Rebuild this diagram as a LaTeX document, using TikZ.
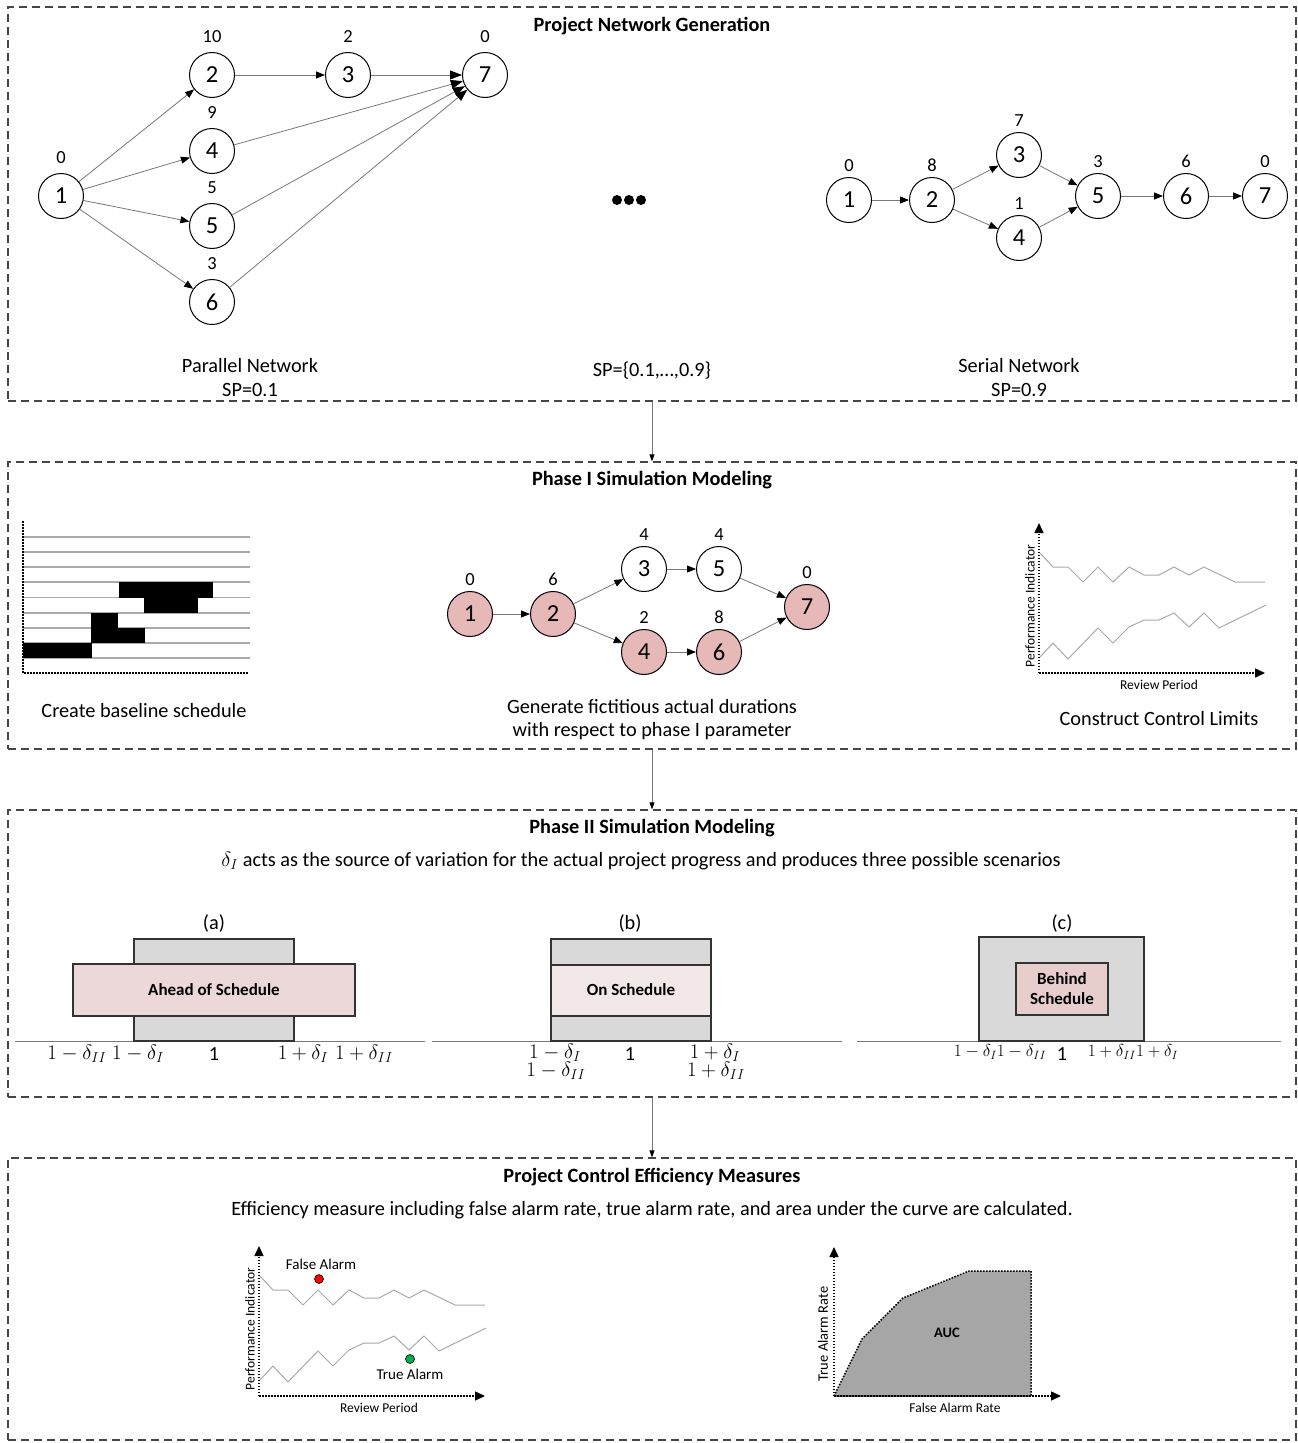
\documentclass[tikz,border=0pt]{standalone}
\usepackage{fontspec}
\setmainfont{Carlito}
\usetikzlibrary{arrows.meta}
\definecolor{nodepink}{RGB}{230,184,183}
\definecolor{boxgray}{RGB}{217,217,217}
\definecolor{bandpink}{RGB}{236,216,216}
\definecolor{lightband}{RGB}{242,232,232}
\definecolor{behindpink}{RGB}{232,205,205}
\definecolor{linegray}{RGB}{120,120,120}
\definecolor{chartgray}{RGB}{170,170,170}
\definecolor{aucgray}{RGB}{166,166,166}
\definecolor{framegray}{RGB}{70,70,70}
\definecolor{alarmgreen}{RGB}{0,176,80}
\begin{document}
\begin{tikzpicture}[x=1pt,y=-1pt,
  panel/.style={draw=framegray, dash pattern=on 8pt off 5pt, line width=1.2pt, minimum width=1288pt, inner sep=0pt},
  ttl/.style={font=\fontsize{20.3}{24}\selectfont\bfseries},
  txt/.style={font=\fontsize{20.3}{24}\selectfont, align=center, inner sep=0pt},
  small/.style={font=\fontsize{13.5}{16}\selectfont, inner sep=0pt},
  act/.style={circle, draw=black, line width=1pt, minimum size=45pt, inner sep=0pt, font=\fontsize{24.5}{28}\selectfont, fill=white},
  hot/.style={act, fill=nodepink},
  dur/.style={font=\fontsize{18.5}{22}\selectfont, inner sep=0pt},
  netarrow/.style={draw=linegray, line width=0.8pt, -{Triangle[length=9pt,width=7pt,color=black]}},
  bigarrow/.style={draw=linegray, line width=0.8pt, -{Triangle[length=12pt,width=9pt,color=black]}},
  flowarrow/.style={draw=linegray, line width=0.8pt, -{Triangle[length=7pt,width=5pt,color=black]}},
  axis/.style={line width=1.5pt, dash pattern=on 1.5pt off 1.5pt, -{Triangle[length=10pt,width=9pt]}},
  chartline/.style={draw=chartgray, line width=1pt},
  ganttline/.style={draw=chartgray, line width=1.1pt},
  scen/.style={draw=black!80, line width=1.2pt},
  base/.style={draw=linegray, line width=1pt},
  mlab/.style={font=\fontsize{20}{24}\selectfont, inner sep=0pt},
  clab/.style={font=\fontsize{17}{20}\selectfont, inner sep=0pt},
  scentext/.style={font=\fontsize{17}{21}\selectfont\bfseries, align=center},
  ctrl/.pic={
    \draw[axis] (0,0) -- (0,-150);
    \draw[axis] (0,0) -- (226,0);
    \draw[chartline] (1,-120) -- (14,-106) -- (29,-106) -- (44,-91) -- (59,-106) -- (74,-91) -- (90,-106) -- (105,-98) -- (120,-98) -- (135,-106) -- (150,-98) -- (165,-106) -- (196,-91) -- (226,-91);
    \draw[chartline] (1,-16) -- (14,-30) -- (29,-14) -- (59,-45) -- (74,-30) -- (90,-46) -- (105,-53) -- (120,-53) -- (135,-60) -- (150,-46) -- (165,-60) -- (180,-45) -- (227,-68);
    \node[small, rotate=90] at (-9,-67) {Performance Indicator};
    \node[small] at (120,12) {Review Period};
  }
]
\useasboundingbox[fill=white] (0,0) rectangle (1298,1443);

% ---------- frames ----------
\node[panel, minimum height=394pt] (f1) at (652,204) {};
\node[panel, minimum height=287pt] (f2) at (652,605.5) {};
\node[panel, minimum height=287pt] (f3) at (652,953.5) {};
\node[panel, minimum height=282pt] (f4) at (652,1299) {};
\draw[flowarrow] (f1.south) -- (f2.north);
\draw[flowarrow] (f2.south) -- (f3.north);
\draw[flowarrow] (f3.south) -- (f4.north);

% ---------- Project Network Generation ----------
\node[ttl] (t1) at (652,26) {Project Network Generation};

\node[act, label={[dur,label distance=9pt]90:0}] (p1) at (61,196) {1};
\node[act, label={[dur,label distance=9pt]90:10}] (p2) at (212,75) {2};
\node[act, label={[dur,label distance=9pt]90:2}] (p3) at (348,75) {3};
\node[act, label={[dur,label distance=9pt]90:0}] (p7) at (485,75) {7};
\node[act, label={[dur,label distance=9pt]90:9}] (p4) at (212,151) {4};
\node[act, label={[dur,label distance=9pt]90:5}] (p5) at (212,226) {5};
\node[act, label={[dur,label distance=9pt]90:3}] (p6) at (212,302) {6};
\draw[netarrow] (p1) -- (p2);
\draw[netarrow] (p1) -- (p4);
\draw[netarrow] (p1) -- (p5);
\draw[netarrow] (p1) -- (p6);
\draw[netarrow] (p2) -- (p3);
\draw[bigarrow] (p3) -- (p7);
\draw[bigarrow] (p4) -- (p7);
\draw[bigarrow] (p5) -- (p7);
\draw[bigarrow] (p6) -- (p7);
\node[txt] (pl1) at (250,366) {Parallel Network};
\node[txt] (pl2) at (250,390) {SP=0.1};

\fill (617,200) circle (5pt) (629,200) circle (5pt) (641,200) circle (5pt);
\node[txt] (spr) at (652,371) {SP=\{0.1,…,0.9\}};

\node[act, label={[dur,label distance=5.5pt]90:0}] (s1) at (849,200) {1};
\node[act, label={[dur,label distance=5.5pt]90:8}] (s2) at (932,200) {2};
\node[act, label={[dur,label distance=5.5pt]90:7}] (s3) at (1019,155) {3};
\node[act, label={[dur,label distance=5.5pt]90:1}] (s4) at (1019,238) {4};
\node[act, label={[dur,label distance=5.5pt]90:3}] (s5) at (1098,196) {5};
\node[act, label={[dur,label distance=5.5pt]90:6}] (s6) at (1186,196) {6};
\node[act, label={[dur,label distance=5.5pt]90:0}] (s7) at (1265,196) {7};
\draw[netarrow] (s1) -- (s2);
\draw[netarrow] (s2) -- (s3);
\draw[netarrow] (s2) -- (s4);
\draw[netarrow] (s3) -- (s5);
\draw[netarrow] (s4) -- (s5);
\draw[netarrow] (s5) -- (s6);
\draw[netarrow] (s6) -- (s7);
\node[txt] (sl1) at (1019,366) {Serial Network};
\node[txt] (sl2) at (1019,390) {SP=0.9};

% ---------- Phase I ----------
\node[ttl] (t2) at (652,480) {Phase I Simulation Modeling};

\foreach \yy in {537,552,567,582,597.5,613,628,643,658}
  \draw[ganttline] (23,\yy) -- (250,\yy);
\fill[black] (23,643) rectangle (92,658);
\fill[black] (91,613) rectangle (118,628);
\fill[black] (91,628) rectangle (145,643);
\fill[black] (119,582) rectangle (213,597.5);
\fill[black] (144,597) rectangle (198,613);
\draw[line width=1.5pt, dash pattern=on 1.5pt off 1.5pt] (23,521) -- (23,673) -- (249,673);
\node[txt] (g1) at (144,711) {Create baseline schedule};

\node[hot, label={[dur,label distance=5.5pt]90:0}] (a1) at (470,614) {1};
\node[hot, label={[dur,label distance=5.5pt]90:6}] (a2) at (553,614) {2};
\node[act, label={[dur,label distance=5.5pt]90:4}] (a3) at (644,569) {3};
\node[act, label={[dur,label distance=5.5pt]90:4}] (a5) at (719,569) {5};
\node[hot, label={[dur,label distance=5.5pt]90:2}] (a4) at (644,652) {4};
\node[hot, label={[dur,label distance=5.5pt]90:8}] (a6) at (719,652) {6};
\node[hot, label={[dur,label distance=5.5pt]90:0}] (a7) at (807,607) {7};
\draw[netarrow] (a1) -- (a2);
\draw[netarrow] (a2) -- (a3);
\draw[netarrow] (a2) -- (a4);
\draw[netarrow] (a3) -- (a5);
\draw[netarrow] (a4) -- (a6);
\draw[netarrow] (a5) -- (a7);
\draw[netarrow] (a6) -- (a7);
\node[txt] (gd1) at (652,707) {Generate fictitious actual durations};
\node[txt] (gd2) at (652,731) {with respect to phase I parameter};

\pic at (1039,673) {ctrl};
\node[txt] (cc) at (1159,719) {Construct Control Limits};

% ---------- Phase II ----------
\node[ttl] (t3) at (652,828) {Phase II Simulation Modeling};
\node[txt] (d3) at (641,861) {$\delta_I$ acts as the source of variation for the actual project progress and produces three possible scenarios};

% (a)
\node[txt] (la) at (214,923) {(a)};
\draw[base] (15,1041) -- (425,1041);
\draw[scen, fill=boxgray] (134,939) rectangle (294,1041);
\draw[scen, fill=bandpink] (73,964) rectangle (355,1016);
\node[scentext] (ahead) at (214,990) {Ahead of Schedule};
\node[mlab] (a-1) at (77,1054) {$1-\delta_{II}$};
\node[mlab] (a-2) at (138,1054) {$1-\delta_{I}$};
\node[mlab] (a-3) at (214,1054) {1};
\node[mlab] (a-4) at (303,1054) {$1+\delta_{I}$};
\node[mlab] (a-5) at (364,1054) {$1+\delta_{II}$};

% (b)
\node[txt] (lb) at (630,923) {(b)};
\draw[base] (432,1041) -- (842,1041);
\draw[scen, fill=boxgray] (551,939) rectangle (711,1041);
\draw[scen, fill=lightband] (551,965) rectangle (711,1016);
\node[scentext] (onsch) at (631,990) {On Schedule};
\node[mlab] (b-1) at (555,1053) {$1-\delta_{I}$};
\node[mlab] (b-2) at (556,1071) {$1-\delta_{II}$};
\node[mlab] (b-3) at (630,1054) {1};
\node[mlab] (b-4) at (715,1053) {$1+\delta_{I}$};
\node[mlab] (b-5) at (716,1071) {$1+\delta_{II}$};

% (c)
\node[txt] (lc) at (1062,923) {(c)};
\draw[base] (857,1041) -- (1281,1041);
\draw[scen, fill=boxgray] (979,937) rectangle (1144,1041);
\draw[scen, fill=behindpink] (1016,963) rectangle (1108,1015);
\node[scentext, font=\fontsize{17}{20}\selectfont\bfseries] (behind) at (1062,989) {Behind\\Schedule};
\node[clab] (c-1) at (1000,1052) {$1-\delta_{I}1-\delta_{II}$};
\node[mlab] (c-2) at (1062,1054) {1};
\node[clab] (c-3) at (1133,1052) {$1+\delta_{II}1+\delta_{I}$};

% ---------- Efficiency ----------
\node[ttl] (t4) at (652,1177) {Project Control Efficiency Measures};
\node[txt] (d4) at (652,1210) {Efficiency measure including false alarm rate, true alarm rate, and area under the curve are calculated.};

\pic at (259,1396) {ctrl};
\node[circle, draw=black, line width=0.6pt, fill=red, minimum size=9pt, inner sep=0pt] (fa) at (319,1279) {};
\node[font=\fontsize{15}{18}\selectfont, inner sep=0pt] (fal) at (321,1264) {False Alarm};
\node[circle, draw=black, line width=0.6pt, fill=alarmgreen, minimum size=9pt, inner sep=0pt] (ta) at (410,1359) {};
\node[font=\fontsize{15}{18}\selectfont, inner sep=0pt] (tal) at (410,1374) {True Alarm};

\draw[line width=1.5pt, dash pattern=on 1.5pt off 1.5pt, fill=aucgray] (834,1396) -- (862,1339) -- (903,1298) -- (969,1271) -- (1031,1271) -- (1031,1396) -- cycle;
\draw[axis] (834,1396) -- (834,1247);
\draw[axis] (834,1396) -- (1061,1396);
\node[font=\fontsize{14.5}{17}\selectfont\bfseries] (auc) at (947,1333) {AUC};
\node[font=\fontsize{14.5}{17}\selectfont, inner sep=0pt, rotate=90] (tar) at (823,1334) {True Alarm Rate};
\node[small] (far) at (955,1408) {False Alarm Rate};
\end{tikzpicture}
\end{document}
